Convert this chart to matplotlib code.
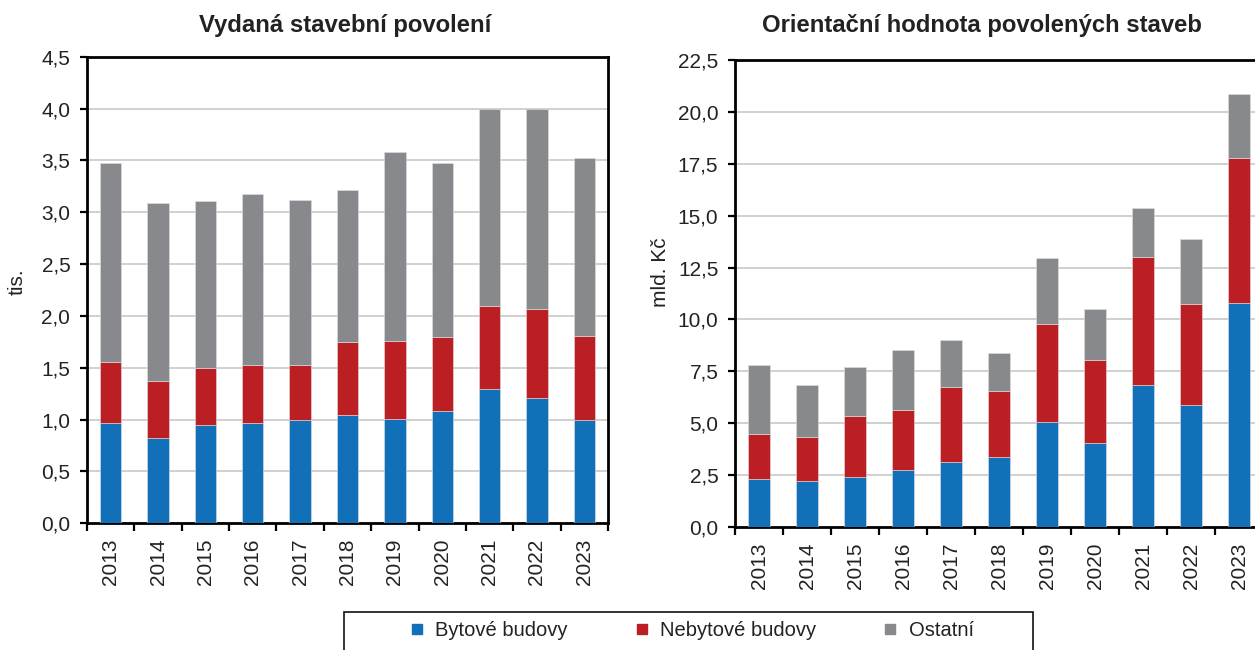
import matplotlib
matplotlib.use("Agg")
import matplotlib.pyplot as plt
import numpy as np
from matplotlib.lines import Line2D
from matplotlib.patches import Rectangle
from matplotlib.ticker import FuncFormatter, FixedLocator

plt.rcParams['font.family'] = ['Liberation Sans', 'DejaVu Sans']

years = ['2013', '2014', '2015', '2016', '2017', '2018', '2019', '2020', '2021', '2022', '2023']
series_names = ['Bytové budovy', 'Nebytové budovy', 'Ostatní']
colors = ['#1170b7', '#bb1f24', '#87898d']

# Vydaná stavební povolení (tis.)
permits_byt = [0.97, 0.82, 0.95, 0.97, 1.00, 1.04, 1.01, 1.08, 1.30, 1.21, 1.00]
permits_nebyt = [0.59, 0.555, 0.55, 0.56, 0.53, 0.71, 0.75, 0.72, 0.80, 0.86, 0.81]
permits_ost = [1.91, 1.715, 1.61, 1.65, 1.59, 1.46, 1.82, 1.67, 1.90, 1.93, 1.71]

# Orientační hodnota povolených staveb (mld. Kč)
value_byt = [2.29, 2.24, 2.39, 2.77, 3.14, 3.38, 5.07, 4.03, 6.85, 5.86, 10.79]
value_nebyt = [2.20, 2.11, 2.98, 2.88, 3.62, 3.15, 4.72, 4.03, 6.15, 4.89, 6.99]
value_ost = [3.31, 2.49, 2.33, 2.86, 2.24, 1.86, 3.16, 2.44, 2.38, 3.13, 3.07]

W, H = 1255, 650
fig = plt.figure(figsize=(W / 100, H / 100), dpi=100)

ax1 = fig.add_axes([87 / W, 1 - 523.3 / H, 521 / W, 466.6 / H])
ax2 = fig.add_axes([735 / W, 1 - 527 / H, 528 / W, 467 / H])

FS = 15
fmt = FuncFormatter(lambda v, p: f"{v:.1f}".replace('.', ','))


def draw(ax, comps, ymax, ystep):
    x = np.arange(len(years))
    bottom = np.zeros(len(years))
    for vals, c in zip(comps, colors):
        ax.bar(x, vals, width=0.45, bottom=bottom, color=c, zorder=3,
               edgecolor='#e0e0e0', linewidth=0.4)
        bottom = bottom + np.array(vals)
    ax.set_xlim(-0.5, len(years) - 0.5)
    ax.set_ylim(0, ymax)
    ticks = np.arange(0, ymax + 1e-9, ystep)
    ax.set_yticks(ticks)
    ax.yaxis.set_major_formatter(fmt)
    ax.grid(axis='y', color='#c8c8c8', linewidth=1.2, zorder=0)
    ax.set_axisbelow(True)
    ax.xaxis.set_major_locator(FixedLocator(np.arange(-0.5, len(years), 1.0)))
    ax.xaxis.set_major_formatter(FuncFormatter(lambda v, p: ''))
    ax.xaxis.set_minor_locator(FixedLocator(x))
    ax.set_xticklabels(years, minor=True, rotation=90, fontsize=FS, color='#222222')
    ax.tick_params(axis='x', which='major', length=5.5, width=1.6, direction='out')
    ax.tick_params(axis='x', which='minor', length=0, pad=11)
    ax.tick_params(axis='y', length=5, width=1.6, pad=7, labelsize=FS, labelcolor='#222222')
    for s in ax.spines.values():
        s.set_linewidth(2.0)
        s.set_color('black')


draw(ax1, [permits_byt, permits_nebyt, permits_ost], 4.5, 0.5)
draw(ax2, [value_byt, value_nebyt, value_ost], 22.5, 2.5)

fig.text(345 / W, 1 - 32 / H, 'Vydaná stavební povolení', ha='center', va='baseline',
         fontsize=17.2, fontweight='bold', color='#222222')
fig.text(982 / W, 1 - 32 / H, 'Orientační hodnota povolených staveb', ha='center', va='baseline',
         fontsize=17.2, fontweight='bold', color='#222222')

fig.text(17 / W, 1 - 282 / H, 'tis.', rotation=90, ha='center', va='center', fontsize=FS,
         color='#222222')
fig.text(660 / W, 1 - 272 / H, 'mld. Kč', rotation=90, ha='center', va='center', fontsize=FS,
         color='#222222')

# legend frame
fig.patches.append(Rectangle((344 / W, -0.05), (1033 - 344) / W, 0.05 + (1 - 612 / H),
                             transform=fig.transFigure, fill=False, edgecolor='#111111',
                             linewidth=1.2))
handles = [Line2D([], [], linestyle='none', marker='s', markersize=7.5, color=c) for c in colors]
fig.legend(handles, series_names, ncol=3, loc='center', bbox_to_anchor=(692 / W, 1 - 631 / H),
           frameon=False, fontsize=14.5, handlelength=0.6, handletextpad=0.6, columnspacing=3.4,
           borderpad=0, labelcolor='#222222')

fig.savefig('out.png', dpi=100)
